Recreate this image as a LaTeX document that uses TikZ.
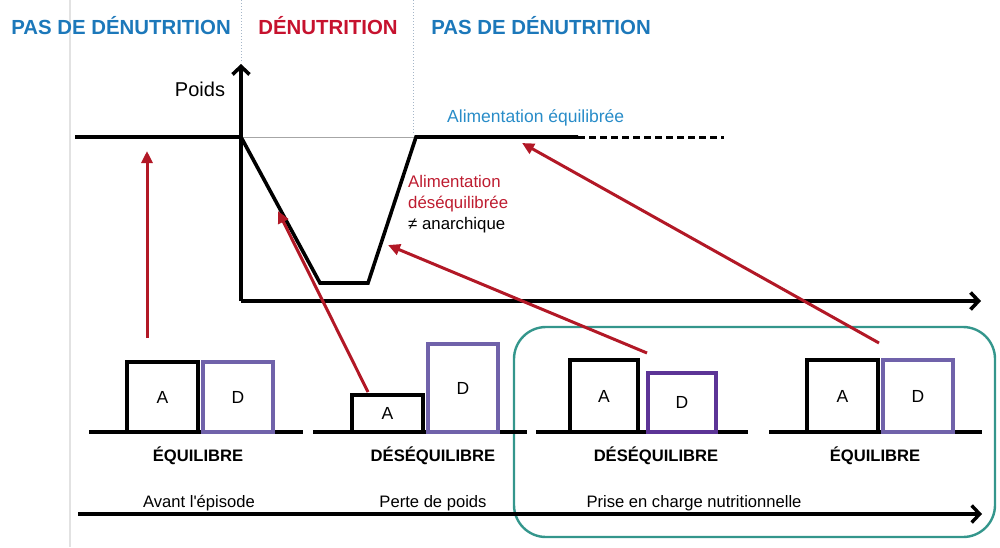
\documentclass[tikz,border=0pt]{standalone}
\usepackage{fontspec}
\setmainfont{Liberation Sans}
\usetikzlibrary{arrows.meta}
\definecolor{titleblue}{RGB}{28,120,186}
\definecolor{titlered}{RGB}{198,18,46}
\definecolor{arrred}{RGB}{178,24,38}
\definecolor{txtred}{RGB}{190,28,48}
\definecolor{txtblue}{RGB}{40,140,200}
\definecolor{purp}{RGB}{112,98,170}
\definecolor{purpdark}{RGB}{92,52,150}
\definecolor{tealc}{RGB}{52,150,140}
\definecolor{dotc}{RGB}{165,182,200}
\definecolor{sepgray}{RGB}{226,226,226}
\begin{document}
\begin{tikzpicture}[x=1pt,y=-1pt,
  blk/.style={line width=3.6pt, black, line join=miter},
  axisarr/.style={line width=3.6pt, black, -{Straight Barb[length=8pt,width=17pt]}},
  redarr/.style={line width=3pt, arrred, -{Triangle[length=12pt,width=11pt]}},
  abox/.style={draw=black, line width=3.4pt, inner sep=0pt, font=\fontsize{17.5}{20}\selectfont},
  dbox/.style={abox, draw=purp},
  ttl/.style={anchor=base, inner sep=0pt, font=\fontsize{20.4}{24}\selectfont\bfseries},
  state/.style={anchor=base, inner sep=0pt, font=\fontsize{16.6}{20}\selectfont\bfseries},
  phase/.style={anchor=base, inner sep=0pt, font=\fontsize{16.6}{20}\selectfont},
  note/.style={anchor=base west, inner sep=0pt, font=\fontsize{16.8}{20}\selectfont},
  base/.style={line width=3.6pt, black}
]
\useasboundingbox (0,0) rectangle (1000,547);

% light separator
\coordinate (g0) at (70,0);
\coordinate (g1) at (70,547);
\draw[sepgray, line width=1.5pt] (g0) -- (g1);

% dotted separators
\coordinate (d1a) at (241,0);
\coordinate (d1b) at (241,62);
\coordinate (d2a) at (413,0);
\coordinate (d2b) at (413,135);
\draw[dotc, line width=1pt, dotted] (d1a) -- (d1b);
\draw[dotc, line width=1pt, dotted] (d2a) -- (d2b);

% titles
\node[ttl, titleblue] (t1) at (121,34) {PAS DE DÉNUTRITION};
\node[ttl, titlered] (t2) at (328,34) {DÉNUTRITION};
\node[ttl, titleblue] (t3) at (541,34) {PAS DE DÉNUTRITION};

% teal frame
\node[draw=tealc, line width=2.4pt, rounded corners=32pt, minimum width=481pt, minimum height=210pt, inner sep=0pt] (care) at (754.5,432) {};

% axes
\coordinate (o) at (241,301);
\coordinate (ytip) at (241,64);
\coordinate (xtip) at (981,301);
\draw[axisarr] (o) -- (ytip);
\draw[axisarr] (o) -- (xtip);
\node[anchor=base, inner sep=0pt, font=\fontsize{20}{24}\selectfont] (poids) at (200,96) {Poids};

% weight curve
\coordinate (l0) at (75,137);
\coordinate (c0) at (241,137);
\coordinate (b1) at (320,283);
\coordinate (b2) at (368,283);
\coordinate (r0) at (416,137);
\coordinate (s1) at (578,137);
\coordinate (s2) at (724,137);
\draw[gray!70, line width=0.8pt] (c0) -- (r0);
\draw[blk] (l0) -- (c0) -- (b1) -- (b2) -- (r0) -- (s1);
\draw[line width=3pt, dash pattern=on 7pt off 4pt] (s1) -- (s2);

\node[note, txtblue, font=\fontsize{17.5}{20}\selectfont] (ae) at (447,122) {Alimentation équilibrée};
\node[note, txtred] (ad1) at (408,187) {Alimentation};
\node[note, txtred] (ad2) at (408,208) {déséquilibrée};
\node[note] (ad3) at (408,229) {≠ anarchique};

% group 1
\coordinate (L1a) at (89,432);
\coordinate (L1b) at (303,432);
\draw[base] (L1a) -- (L1b);
\node[abox, minimum width=71pt, minimum height=70pt] (A1) at (162.5,397) {A};
\node[dbox, minimum width=70pt, minimum height=70pt] (D1) at (238,397) {D};
\node[state] (s1lbl) at (198,461) {ÉQUILIBRE};
\node[phase] (p1) at (199,507) {Avant l\textquotesingle épisode};

% group 2
\coordinate (L2a) at (313,432);
\coordinate (L2b) at (527,432);
\draw[base] (L2a) -- (L2b);
\node[abox, minimum width=71pt, minimum height=37pt] (A2) at (387.5,413.5) {A};
\node[dbox, minimum width=70pt, minimum height=88pt] (D2) at (463,388) {D};
\node[state] (s2lbl) at (433,461) {DÉSÉQUILIBRE};
\node[phase] (p2) at (433,507) {Perte de poids};

% group 3
\coordinate (L3a) at (536,432);
\coordinate (L3b) at (748,432);
\draw[base] (L3a) -- (L3b);
\node[abox, minimum width=68pt, minimum height=72pt] (A3) at (604,396) {A};
\node[dbox, draw=purpdark, minimum width=68pt, minimum height=59pt] (D3) at (682,402.5) {D};
\node[state] (s3lbl) at (656,461) {DÉSÉQUILIBRE};
\node[phase] (p3) at (694,507) {Prise en charge nutritionnelle};

% group 4
\coordinate (L4a) at (769,432);
\coordinate (L4b) at (982,432);
\draw[base] (L4a) -- (L4b);
\node[abox, minimum width=71pt, minimum height=72pt] (A4) at (842.5,396) {A};
\node[dbox, minimum width=70pt, minimum height=72pt] (D4) at (918,396) {D};
\node[state] (s4lbl) at (875,461) {ÉQUILIBRE};

% time arrow
\coordinate (ta) at (78,514);
\coordinate (tb) at (982,514);
\draw[line width=3.4pt, -{Straight Barb[length=8pt,width=17pt]}] (ta) -- (tb);

% red arrows
\coordinate (r1s) at (147,338);
\coordinate (r1e) at (147,151);
\coordinate (r2s) at (368,392);
\coordinate (r2e) at (278,211);
\coordinate (r3s) at (647,353);
\coordinate (r3e) at (388,245);
\coordinate (r4s) at (879,343);
\coordinate (r4e) at (522,143);
\draw[redarr] (r1s) -- (r1e);
\draw[redarr] (r2s) -- (r2e);
\draw[redarr] (r3s) -- (r3e);
\draw[redarr] (r4s) -- (r4e);
\end{tikzpicture}
\end{document}
